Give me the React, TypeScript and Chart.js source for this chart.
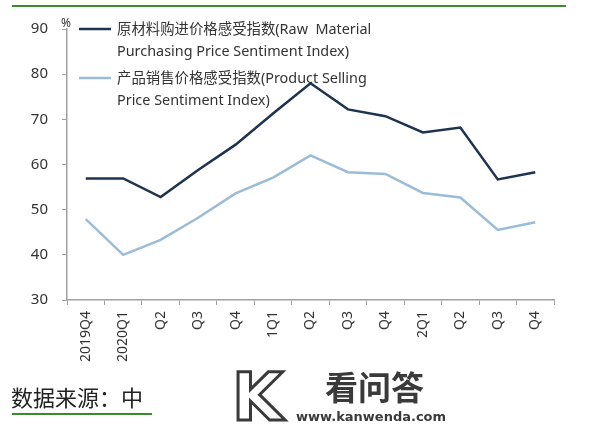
import React, { useEffect, useRef } from "react";
import { Chart, registerables } from "chart.js";

Chart.register(...registerables);

const categories = ["2019Q4", "2020Q1", "Q2", "Q3", "Q4", "1Q1", "Q2", "Q3", "Q4", "2Q1", "Q2", "Q3", "Q4"];
const rawMaterial = [56.9, 56.9, 52.8, 58.8, 64.4, 71.3, 78.0, 72.2, 70.7, 67.1, 68.2, 56.7, 58.3];
const productSelling = [47.9, 40.0, 43.3, 48.2, 53.6, 57.1, 62.0, 58.3, 57.9, 53.7, 52.7, 45.5, 47.2];
const yTicks = [30, 40, 50, 60, 70, 80, 90];
const legendRaw = ["原材料购进价格感受指数(Raw  Material", "Purchasing Price Sentiment Index)"];
const legendProduct = ["产品销售价格感受指数(Product Selling", "Price Sentiment Index)"];
const sourceText = "数据来源：中";
const watermarkCn = "看问答";
const watermarkUrl = "www.kanwenda.com";

const DARK = "#1e3350";
const LIGHT = "#9bbcd8";
const TEXT = "#333333";
const GREEN = "#3b8a2e";

const decorPlugin = {
  id: "decor",
  afterDraw(chart: any) {
    const ctx = chart.ctx as CanvasRenderingContext2D;
    ctx.save();
    // top green rule
    ctx.strokeStyle = GREEN;
    ctx.lineWidth = 2;
    ctx.beginPath();
    ctx.moveTo(12, 6);
    ctx.lineTo(566, 6);
    ctx.stroke();

    // percent sign
    ctx.fillStyle = TEXT;
    ctx.font = "12px 'Noto Sans'";
    ctx.textBaseline = "middle";
    ctx.textAlign = "left";
    ctx.fillText("%", 61, 24);

    // legend
    const drawItem = (color: string, lines: string[], y: number) => {
      ctx.strokeStyle = color;
      ctx.lineWidth = 2.5;
      ctx.beginPath();
      ctx.moveTo(79, y);
      ctx.lineTo(111, y);
      ctx.stroke();
      ctx.fillStyle = TEXT;
      ctx.font = "14.4px 'Noto Sans', 'Noto Sans CJK SC'";
      ctx.textBaseline = "middle";
      ctx.textAlign = "left";
      ctx.fillText(lines[0], 117, y + 1);
      ctx.fillText(lines[1], 117, y + 23);
    };
    drawItem(DARK, legendRaw, 29);
    drawItem(LIGHT, legendProduct, 78);

    // source
    ctx.fillStyle = "#222";
    ctx.font = "22px 'Noto Sans CJK SC'";
    ctx.textBaseline = "alphabetic";
    ctx.fillText(sourceText, 11, 406);
    ctx.strokeStyle = GREEN;
    ctx.lineWidth = 2;
    ctx.beginPath();
    ctx.moveTo(12, 414);
    ctx.lineTo(152, 414);
    ctx.stroke();

    // watermark
    ctx.strokeStyle = "#3a3a3a";
    ctx.lineWidth = 3;
    ctx.font = "bold 66px 'DejaVu Sans'";
    ctx.strokeText("K", 232, 420);
    ctx.fillStyle = "#3a3a3a";
    ctx.font = "bold 33px 'Noto Sans CJK SC'";
    ctx.fillText(watermarkCn, 325, 400);
    ctx.font = "bold 13px 'DejaVu Sans'";
    ctx.fillText(watermarkUrl, 296, 421);
    ctx.restore();
  },
};

export default function App() {
  const ref = useRef<HTMLCanvasElement | null>(null);
  useEffect(() => {
    if (!ref.current) return;
    const chart = new Chart(ref.current, {
      type: "line",
      data: {
        labels: categories,
        datasets: [
          {
            label: legendRaw.join(" "),
            data: rawMaterial,
            borderColor: DARK,
            borderWidth: 2.5,
            pointRadius: 0,
            tension: 0,
          },
          {
            label: legendProduct.join(" "),
            data: productSelling,
            borderColor: LIGHT,
            borderWidth: 2.5,
            pointRadius: 0,
            tension: 0,
          },
        ],
      },
      options: {
        animation: false,
        responsive: false,
        maintainAspectRatio: false,
        layout: { padding: { top: 29, right: 46, left: 0, bottom: 0 } },
        plugins: { legend: { display: false }, tooltip: { enabled: false } },
        scales: {
          x: {
            offset: true,
            afterFit: (s: any) => {
              s.height = 130;
            },
            grid: {
              offset: true,
              drawOnChartArea: false,
              drawTicks: true,
              tickLength: 5,
              color: "#a0a0a0",
            },
            border: { color: "#a0a0a0", width: 1.5 },
            ticks: {
              minRotation: 90,
              maxRotation: 90,
              autoSkip: false,
              color: TEXT,
              padding: 6,
              font: { family: "'Noto Sans'", size: 14 },
            },
          },
          y: {
            min: 30,
            max: 90,
            afterFit: (s: any) => {
              s.width = 67;
            },
            afterBuildTicks: (s: any) => {
              s.ticks = yTicks.map((v) => ({ value: v }));
            },
            grid: {
              drawOnChartArea: false,
              drawTicks: true,
              tickLength: 5,
              color: "#a0a0a0",
            },
            border: { color: "#a0a0a0", width: 1.5 },
            ticks: {
              color: TEXT,
              padding: 14,
              font: { family: "'Noto Sans'", size: 15 },
            },
          },
        },
      },
      plugins: [decorPlugin],
    });
    return () => chart.destroy();
  }, []);
  return (
    <div style={{ position: "fixed", left: 0, top: 0, width: 600, height: 430, background: "#fff" }}>
      <canvas ref={ref} width={600} height={430} style={{ width: 600, height: 430 }} />
    </div>
  );
}
